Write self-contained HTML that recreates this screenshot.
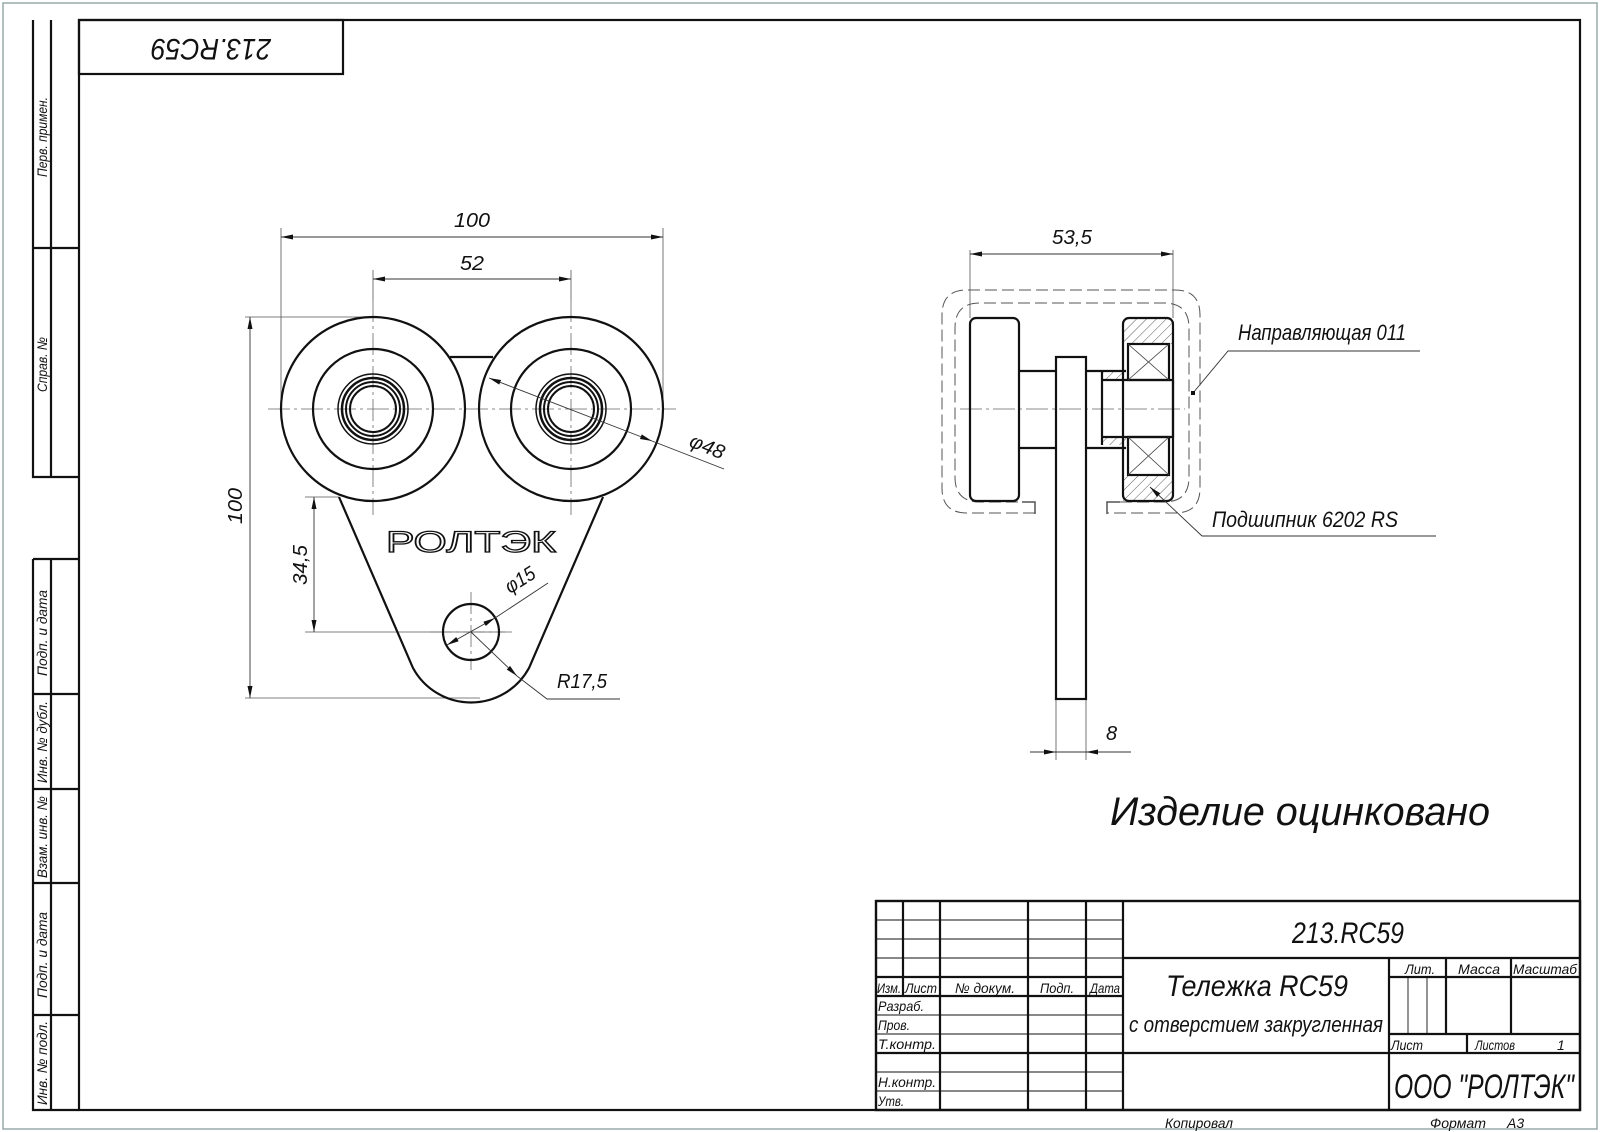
<!DOCTYPE html>
<html><head><meta charset="utf-8"><style>
html,body{margin:0;padding:0;background:#fff}
svg{display:block}
text{font-family:"Liberation Sans",sans-serif;font-style:italic;fill:#111}
</style></head><body>
<svg width="1600" height="1132" viewBox="0 0 1600 1132" xmlns="http://www.w3.org/2000/svg">
<defs>
<marker id="a" viewBox="0 0 12 6" refX="12" refY="3" markerWidth="12" markerHeight="6" orient="auto-start-reverse" markerUnits="userSpaceOnUse"><path d="M0,0.5 L12,3 L0,5.5 Z" fill="#111"/></marker>
<pattern id="h" width="7" height="7" patternUnits="userSpaceOnUse" patternTransform="rotate(45)"><line x1="0" y1="0" x2="0" y2="7" stroke="#333" stroke-width="0.8"/></pattern>
</defs>
<rect x="3" y="3" width="1594" height="1126" fill="none" stroke="#9aa" stroke-width="1.5"/>
<g fill="none" stroke="#111" stroke-width="2.2">
<rect x="79" y="20" width="1501" height="1090"/>
<rect x="79" y="20" width="264" height="54"/>
<path d="M33,20 V477 H79 M51,20 V477 M33,248 H79 M33,559 V1110 H79 M51,559 V1110 M33,559 H79 M33,694 H79 M33,789 H79 M33,883 H79 M33,1015 H79"/>
</g>
<text transform="translate(211,47) rotate(180)" font-size="30" text-anchor="middle" dominant-baseline="middle" textLength="120" lengthAdjust="spacingAndGlyphs">213.RC59</text>
<g font-size="14">
<text transform="translate(47,177) rotate(-90)" textLength="80" lengthAdjust="spacingAndGlyphs">Перв. примен.</text>
<text transform="translate(47,392) rotate(-90)" textLength="55" lengthAdjust="spacingAndGlyphs">Справ. №</text>
<text transform="translate(47,676) rotate(-90)" textLength="86" lengthAdjust="spacingAndGlyphs">Подп. и дата</text>
<text transform="translate(47,783) rotate(-90)" textLength="82" lengthAdjust="spacingAndGlyphs">Инв. № дубл.</text>
<text transform="translate(47,878) rotate(-90)" textLength="82" lengthAdjust="spacingAndGlyphs">Взам. инв. №</text>
<text transform="translate(47,998) rotate(-90)" textLength="86" lengthAdjust="spacingAndGlyphs">Подп. и дата</text>
<text transform="translate(47,1105) rotate(-90)" textLength="84" lengthAdjust="spacingAndGlyphs">Инв. № подл.</text>
</g>
<g fill="none" stroke="#111">
<rect x="876" y="901" width="704" height="209" stroke-width="2.4"/>
<g stroke-width="2.2">
<path d="M903,901 V996 M940,901 V1110 M1028,901 V1110 M1086,901 V1110 M1123,901 V1110"/>
<path d="M876,977 H1123 M876,996 H1123 M876,1053 H1123"/>
<path d="M1123,958 H1580 M1389,958 V1110 M1446,958 V1034 M1511,958 V1034 M1389,977 H1580 M1389,1034 H1580 M1389,1053 H1580 M1123,1053 H1389 M1467,1034 V1053"/>
</g>
<g stroke-width="0.9">
<path d="M876,920 H1123 M876,939 H1123 M876,958 H1123 M876,1015 H1123 M876,1034 H1123 M876,1072 H1123 M876,1091 H1123 M1408,977 V1034 M1427,977 V1034"/>
</g>
</g>
<g font-size="14">
<text x="877" y="993" textLength="24" lengthAdjust="spacingAndGlyphs">Изм.</text>
<text x="905" y="993" textLength="32" lengthAdjust="spacingAndGlyphs">Лист</text>
<text x="955" y="993" textLength="60" lengthAdjust="spacingAndGlyphs">№ докум.</text>
<text x="1040" y="993" textLength="34" lengthAdjust="spacingAndGlyphs">Подп.</text>
<text x="1090" y="993" textLength="30" lengthAdjust="spacingAndGlyphs">Дата</text>
<text x="878" y="1011" textLength="46" lengthAdjust="spacingAndGlyphs">Разраб.</text>
<text x="878" y="1030" textLength="32" lengthAdjust="spacingAndGlyphs">Пров.</text>
<text x="878" y="1049" textLength="58" lengthAdjust="spacingAndGlyphs">Т.контр.</text>
<text x="878" y="1087" textLength="58" lengthAdjust="spacingAndGlyphs">Н.контр.</text>
<text x="878" y="1106" textLength="26" lengthAdjust="spacingAndGlyphs">Утв.</text>
<text x="1405" y="974" textLength="30" lengthAdjust="spacingAndGlyphs">Лит.</text>
<text x="1458" y="974" textLength="42" lengthAdjust="spacingAndGlyphs">Масса</text>
<text x="1513" y="974" textLength="64" lengthAdjust="spacingAndGlyphs">Масштаб</text>
<text x="1391" y="1050" textLength="32" lengthAdjust="spacingAndGlyphs">Лист</text>
<text x="1475" y="1050" textLength="40" lengthAdjust="spacingAndGlyphs">Листов</text>
<text x="1557" y="1050">1</text>
<text x="1165" y="1128" textLength="68" lengthAdjust="spacingAndGlyphs">Копировал</text>
<text x="1430" y="1128" textLength="56" lengthAdjust="spacingAndGlyphs">Формат</text>
<text x="1507" y="1128">А3</text>
</g>
<text x="1292" y="943" font-size="30" textLength="112" lengthAdjust="spacingAndGlyphs">213.RC59</text>
<text x="1166" y="996" font-size="30" textLength="182" lengthAdjust="spacingAndGlyphs">Тележка RC59</text>
<text x="1129" y="1032" font-size="22" textLength="254" lengthAdjust="spacingAndGlyphs">с отверстием закругленная</text>
<text x="1394" y="1098" font-size="34" textLength="180" lengthAdjust="spacingAndGlyphs">ООО "РОЛТЭК"</text>
<text x="1110" y="825" font-size="40" textLength="380" lengthAdjust="spacingAndGlyphs">Изделие оцинковано</text>

<g fill="none" stroke="#555" stroke-width="0.8">
<path d="M281,228 V400 M663,228 V400 M373,270 V300 M571,270 V300 M245,317 H373 M245,698 H480 M305,497 H339 M305,632 H505"/>
</g>
<g fill="none" stroke="#666" stroke-width="0.8" stroke-dasharray="22,4,3,4">
<path d="M268,409 H676 M373,300 V515 M571,300 V515 M471,592 V670 M430,632 H512"/>
</g>
<g fill="none" stroke="#111" stroke-width="2.2">
<path d="M450,357 H493"/>
<path d="M339,497 L413,668 A66,66 0 0 0 529,668 L603,497"/>
<circle cx="373" cy="409" r="92"/><circle cx="373" cy="409" r="60"/>
<circle cx="571" cy="409" r="92"/><circle cx="571" cy="409" r="60"/>
<circle cx="471" cy="632" r="28"/>
</g>
<g fill="none" stroke="#111">
<circle cx="373" cy="409" r="35" stroke-width="1.5"/><circle cx="373" cy="409" r="31" stroke-width="2.5"/><circle cx="373" cy="409" r="27" stroke-width="2"/><circle cx="373" cy="409" r="23" stroke-width="2"/>
<circle cx="571" cy="409" r="35" stroke-width="1.5"/><circle cx="571" cy="409" r="31" stroke-width="2.5"/><circle cx="571" cy="409" r="27" stroke-width="2"/><circle cx="571" cy="409" r="23" stroke-width="2"/>
</g>
<text x="471" y="552" font-size="30" text-anchor="middle" style="fill:#fff;font-style:normal" stroke="#111" stroke-width="1.3" textLength="170" lengthAdjust="spacingAndGlyphs">РОЛТЭК</text>
<g fill="none" stroke="#333" stroke-width="0.9">
<line x1="281" y1="237" x2="663" y2="237" marker-start="url(#a)" marker-end="url(#a)"/>
<line x1="373" y1="279" x2="571" y2="279" marker-start="url(#a)" marker-end="url(#a)"/>
<line x1="250" y1="317" x2="250" y2="698" marker-start="url(#a)" marker-end="url(#a)"/>
<line x1="314" y1="497" x2="314" y2="632" marker-start="url(#a)" marker-end="url(#a)"/>
<line x1="489" y1="378" x2="652" y2="441" marker-start="url(#a)" marker-end="url(#a)"/>
<line x1="652" y1="441" x2="724" y2="469"/>
<line x1="447" y1="645" x2="495" y2="618" marker-start="url(#a)" marker-end="url(#a)"/>
<line x1="495" y1="618" x2="548" y2="583"/>
<line x1="471" y1="632" x2="517" y2="676" marker-end="url(#a)"/>
<path d="M517,676 L547,699 H620"/>
</g>
<g font-size="20">
<text x="454" y="227" textLength="36" lengthAdjust="spacingAndGlyphs">100</text>
<text x="460" y="270" textLength="24" lengthAdjust="spacingAndGlyphs">52</text>
<text transform="translate(242,524) rotate(-90)" textLength="36" lengthAdjust="spacingAndGlyphs">100</text>
<text transform="translate(307,585) rotate(-90)" textLength="40" lengthAdjust="spacingAndGlyphs">34,5</text>
<text transform="translate(688,446) rotate(22)" textLength="36" lengthAdjust="spacingAndGlyphs">φ48</text>
<text transform="translate(510,594) rotate(-32)" textLength="32" lengthAdjust="spacingAndGlyphs">φ15</text>
<text x="557" y="688" textLength="50" lengthAdjust="spacingAndGlyphs">R17,5</text>
</g>

<g fill="none" stroke="#555" stroke-width="1" stroke-dasharray="12,5">
<path d="M1035,513 H967 Q942,513 942,488 V315 Q942,290 967,290 H1175 Q1200,290 1200,315 V488 Q1200,513 1175,513 H1107"/>
<path d="M1035,502 H980 Q955,502 955,477 V328 Q955,303 980,303 H1164 Q1189,303 1189,328 V477 Q1189,502 1164,502 H1107"/>
</g>
<path d="M1022,502 H1035 V514 M1120,502 H1107 V514" fill="none" stroke="#555" stroke-width="1.5"/>
<g fill="none" stroke="#555" stroke-width="0.8">
<path d="M970,250 V318 M1173,250 V318 M1056,700 V760 M1086,700 V760"/>
</g>
<path d="M960,409 H1185" stroke="#666" stroke-width="0.8" stroke-dasharray="22,4,3,4"/>
<rect x="1123" y="318" width="50" height="26" fill="url(#h)"/>
<rect x="1123" y="475" width="50" height="26" fill="url(#h)"/>
<rect x="1102" y="372" width="24" height="8" fill="url(#h)"/>
<rect x="1102" y="437" width="24" height="8" fill="url(#h)"/>
<g fill="none" stroke="#111" stroke-width="2.2">
<rect x="970" y="318" width="49" height="183" rx="6"/>
<path d="M1019,371 H1056 M1019,448 H1056 M1086,371 H1126 M1086,448 H1126"/>
<rect x="1056" y="357" width="30" height="342"/>
<rect x="1123" y="318" width="50" height="183" rx="6"/>
<rect x="1128" y="344" width="41" height="36"/>
<rect x="1128" y="437" width="41" height="38"/>
<path d="M1102,380 H1173 M1102,437 H1173 M1102,372 V445 M1173,380 V437"/>
</g>
<g stroke="#444" stroke-width="0.8" fill="none">
<path d="M1128,344 L1169,380 M1169,344 L1128,380 M1128,437 L1169,475 M1169,437 L1128,475"/>
</g>
<g fill="none" stroke="#333" stroke-width="0.9">
<line x1="970" y1="254" x2="1173" y2="254" marker-start="url(#a)" marker-end="url(#a)"/>
<line x1="1030" y1="752" x2="1056" y2="752" marker-end="url(#a)"/>
<line x1="1131" y1="752" x2="1086" y2="752" marker-end="url(#a)"/>
<line x1="1056" y1="752" x2="1086" y2="752"/>
<path d="M1193,393 L1228,351 H1420"/>
<line x1="1202" y1="536" x2="1150" y2="487" marker-end="url(#a)"/>
<path d="M1202,536 H1436"/>
</g>
<rect x="1191" y="391" width="4" height="4" fill="#111"/>
<g font-size="20">
<text x="1052" y="244" textLength="40" lengthAdjust="spacingAndGlyphs">53,5</text>
<text x="1106" y="740">8</text>
<text x="1238" y="340" font-size="22" textLength="168" lengthAdjust="spacingAndGlyphs">Направляющая 011</text>
<text x="1212" y="527" font-size="22" textLength="186" lengthAdjust="spacingAndGlyphs">Подшипник 6202 RS</text>
</g>
</svg>
</body></html>
